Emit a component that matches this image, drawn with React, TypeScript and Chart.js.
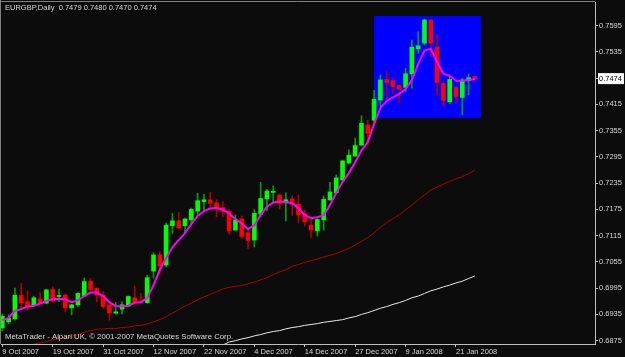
import React, { useEffect, useRef } from "react";
import { Chart, registerables } from "chart.js";

Chart.register(...registerables);

// ---- text ----
const titleText = "EURGBP,Daily  0.7479 0.7480 0.7470 0.7474";
const footerText = "MetaTrader - Alpari UK, \u00a9 2001-2007 MetaQuotes Software Corp.";

// ---- daily bars (9 Oct 2007 .. 24 Jan 2008) ----
const open = [
  0.6904, 0.6918, 0.6925, 0.6979, 0.6964, 0.6955, 0.6970, 0.6961, 0.6992, 0.6976,
  0.6979, 0.6950, 0.6957, 0.6977, 0.7011, 0.6995, 0.6979, 0.6957, 0.6938, 0.6947,
  0.6954, 0.6973, 0.6965, 0.6962, 0.7034, 0.7071, 0.7048, 0.7138, 0.7149, 0.7138,
  0.7151, 0.7171, 0.7193, 0.7197, 0.7190, 0.7179, 0.7171, 0.7128, 0.7153, 0.7122,
  0.7105, 0.7164, 0.7199, 0.7214, 0.7208, 0.7190, 0.7199, 0.7187, 0.7165, 0.7139,
  0.7126, 0.7151, 0.7197, 0.7213, 0.7242, 0.7281, 0.7297, 0.7322, 0.7368, 0.7379,
  0.7425, 0.7472, 0.7469, 0.7458, 0.7454, 0.7485, 0.7542, 0.7555, 0.7608, 0.7546,
  0.7463, 0.7421, 0.7454, 0.7431, 0.7469, 0.7479,
];
const high = [
  0.6936, 0.6934, 0.6995, 0.7006, 0.6989, 0.6976, 0.6985, 0.6992, 0.6998, 0.6993,
  0.6982, 0.6958, 0.6985, 0.7018, 0.7018, 0.6995, 0.6987, 0.6957, 0.6962, 0.6964,
  0.6977, 0.7000, 0.6983, 0.7025, 0.7076, 0.7078, 0.7144, 0.7166, 0.7168, 0.7155,
  0.7178, 0.7212, 0.7210, 0.7214, 0.7197, 0.7193, 0.7174, 0.7162, 0.7160, 0.7127,
  0.7175, 0.7237, 0.7221, 0.7229, 0.7210, 0.7213, 0.7206, 0.7208, 0.7174, 0.7155,
  0.7154, 0.7206, 0.7237, 0.7254, 0.7287, 0.7311, 0.7338, 0.7389, 0.7379, 0.7447,
  0.7482, 0.7490, 0.7476, 0.7459, 0.7498, 0.7562, 0.7581, 0.7610, 0.7609, 0.7574,
  0.7467, 0.7482, 0.7457, 0.7475, 0.7485, 0.7480,
];
const low = [
  0.6897, 0.6914, 0.6922, 0.6949, 0.6945, 0.6953, 0.6959, 0.6959, 0.6964, 0.6964,
  0.6941, 0.6934, 0.6953, 0.6976, 0.6987, 0.6964, 0.6949, 0.6922, 0.6936, 0.6936,
  0.6953, 0.6959, 0.6961, 0.6961, 0.7018, 0.7027, 0.7043, 0.7120, 0.7131, 0.7122,
  0.7139, 0.7162, 0.7174, 0.7180, 0.7158, 0.7158, 0.7119, 0.7126, 0.7109, 0.7086,
  0.7089, 0.7158, 0.7172, 0.7193, 0.7176, 0.7149, 0.7162, 0.7145, 0.7137, 0.7111,
  0.7114, 0.7128, 0.7195, 0.7213, 0.7241, 0.7279, 0.7296, 0.7320, 0.7322, 0.7372,
  0.7410, 0.7425, 0.7439, 0.7418, 0.7444, 0.7452, 0.7532, 0.7551, 0.7524, 0.7437,
  0.7411, 0.7418, 0.7418, 0.7391, 0.7437, 0.7470,
];
const close = [
  0.6931, 0.6926, 0.6979, 0.6961, 0.6953, 0.6973, 0.6961, 0.6991, 0.6966, 0.6977,
  0.6950, 0.6957, 0.6983, 0.7010, 0.6992, 0.6979, 0.6953, 0.6939, 0.6941, 0.6957,
  0.6976, 0.6961, 0.6963, 0.7019, 0.7071, 0.7046, 0.7139, 0.7149, 0.7133, 0.7153,
  0.7175, 0.7195, 0.7197, 0.7189, 0.7176, 0.7170, 0.7126, 0.7151, 0.7113, 0.7104,
  0.7166, 0.7200, 0.7217, 0.7216, 0.7189, 0.7197, 0.7187, 0.7162, 0.7147, 0.7128,
  0.7152, 0.7198, 0.7215, 0.7247, 0.7286, 0.7299, 0.7321, 0.7372, 0.7349, 0.7427,
  0.7471, 0.7465, 0.7456, 0.7450, 0.7485, 0.7546, 0.7549, 0.7608, 0.7555, 0.7465,
  0.7424, 0.7472, 0.7433, 0.7471, 0.7476, 0.7474,
];

// ---- moving averages ----
const maFast = [
  0.6922, 0.6927, 0.6943, 0.6947, 0.6953, 0.6955, 0.6960, 0.6966, 0.6970, 0.6971,
  0.6970, 0.6963, 0.6967, 0.6977, 0.6985, 0.6985, 0.6977, 0.6963, 0.6954, 0.6953,
  0.6955, 0.6962, 0.6963, 0.6973, 0.7002, 0.7037, 0.7064, 0.7089, 0.7105, 0.7121,
  0.7142, 0.7160, 0.7171, 0.7177, 0.7178, 0.7175, 0.7165, 0.7153, 0.7143, 0.7130,
  0.7139, 0.7163, 0.7181, 0.7191, 0.7193, 0.7192, 0.7189, 0.7178, 0.7162, 0.7155,
  0.7157, 0.7162, 0.7185, 0.7213, 0.7238, 0.7258, 0.7283, 0.7310, 0.7329, 0.7370,
  0.7407, 0.7423, 0.7431, 0.7439, 0.7450, 0.7471, 0.7507, 0.7538, 0.7542, 0.7512,
  0.7485, 0.7480, 0.7469, 0.7469, 0.7471, 0.7473,
];
const maMid = [
  0.6849, 0.6854, 0.6857, 0.6861, 0.6864, 0.6867, 0.6870, 0.6873, 0.6877, 0.6879,
  0.6881, 0.6885, 0.6889, 0.6894, 0.6898, 0.6901, 0.6902, 0.6903, 0.6903, 0.6905,
  0.6906, 0.6909, 0.6910, 0.6913, 0.6918, 0.6923, 0.6930, 0.6938, 0.6946, 0.6954,
  0.6961, 0.6968, 0.6975, 0.6981, 0.6987, 0.6993, 0.6997, 0.6999, 0.7001, 0.7005,
  0.7009, 0.7014, 0.7019, 0.7026, 0.7032, 0.7037, 0.7045, 0.7049, 0.7054, 0.7058,
  0.7062, 0.7066, 0.7070, 0.7074, 0.7080, 0.7086, 0.7094, 0.7102, 0.7111, 0.7121,
  0.7134, 0.7145, 0.7154, 0.7163, 0.7174, 0.7185, 0.7197, 0.7208, 0.7219, 0.7226,
  0.7233, 0.7239, 0.7245, 0.7250, 0.7257, 0.7265,
];
const maSlow: (number | null)[] = [
  null, null, null, null, null, null, null, null, null, null,
  null, null, null, null, null, null, null, null, null, null,
  null, null, null, null, null, null, null, null, null, null,
  null, null, null, null, 0.6861, 0.6865, 0.6872, 0.6875, 0.6879, 0.6882,
  0.6886, 0.6889, 0.6893, 0.6896, 0.6898, 0.6902, 0.6905, 0.6907, 0.6910, 0.6912,
  0.6914, 0.6917, 0.6919, 0.6921, 0.6923, 0.6927, 0.6930, 0.6935, 0.6939, 0.6944,
  0.6949, 0.6953, 0.6958, 0.6962, 0.6967, 0.6973, 0.6977, 0.6983, 0.6989, 0.6993,
  0.6998, 0.7002, 0.7007, 0.7011, 0.7017, 0.7023,
];

// ---- axes ----
const dateTickLabels = [
  "9 Oct 2007", "19 Oct 2007", "31 Oct 2007", "12 Nov 2007", "22 Nov 2007",
  "4 Dec 2007", "14 Dec 2007", "27 Dec 2007", "9 Jan 2008", "21 Jan 2008",
];
const barsPerDateTick = 8;
const priceTicks = [
  0.6875, 0.6935, 0.6995, 0.7055, 0.7115, 0.7175, 0.7235, 0.7295,
  0.7355, 0.7415, 0.7474, 0.7535, 0.7595,
];
const lastPrice = 0.7474;

// ---- rectangle object (bar index span, price span) ----
const rectBars = [58.95, 75.94];
const rectPrices = [0.73856, 0.76178];

const FONT = "'Liberation Sans', Arial, sans-serif";
const BG = "#0c0c0c";

function noPad(s: any) {
  s.paddingTop = 0;
  s.paddingBottom = 0;
  s.paddingLeft = 0;
  s.paddingRight = 0;
}

export default function App() {
  const ref = useRef<HTMLCanvasElement>(null);

  useEffect(() => {
    document.body.style.margin = "0";
    document.body.style.background = BG;
    const canvas = ref.current!;
    const idx = open.map((_, i) => i);
    const up = idx.map((i) => close[i] >= open[i]);

    const decor = {
      id: "decor",
      beforeDraw(chart: any) {
        const { ctx, width, height } = chart;
        ctx.save();
        ctx.fillStyle = BG;
        ctx.fillRect(0, 0, width, height);
        ctx.restore();
      },
      beforeDatasetsDraw(chart: any) {
        const { ctx, scales, chartArea } = chart;
        const x0 = scales.x.getPixelForValue(rectBars[0]);
        const x1 = scales.x.getPixelForValue(rectBars[1]);
        const y0 = scales.y.getPixelForValue(rectPrices[1]);
        const y1 = scales.y.getPixelForValue(rectPrices[0]);
        ctx.save();
        ctx.beginPath();
        ctx.rect(chartArea.left, chartArea.top, chartArea.right - chartArea.left, chartArea.bottom - chartArea.top);
        ctx.clip();
        ctx.fillStyle = "#0000ff";
        ctx.fillRect(Math.round(x0), Math.round(y0), Math.round(x1 - x0), Math.round(y1 - y0));
        ctx.restore();
      },
      afterDraw(chart: any) {
        const { ctx, chartArea } = chart;
        ctx.save();
        ctx.strokeStyle = "#808080";
        ctx.lineWidth = 1;
        ctx.beginPath();
        ctx.moveTo(0.5, 0);
        ctx.lineTo(0.5, chartArea.bottom);
        ctx.moveTo(0, 1.5);
        ctx.lineTo(chartArea.right, 1.5);
        ctx.stroke();
        ctx.fillStyle = "#d8d8d8";
        ctx.textBaseline = "middle";
        ctx.textAlign = "left";
        ctx.font = "7.5px " + FONT;
        ctx.fillText(titleText, 5, 8);
        ctx.font = "7.8px " + FONT;
        ctx.fillText(footerText, 5, 337);
        ctx.restore();
      },
    };

    const chart = new Chart(canvas, {
      type: "bar",
      data: {
        datasets: [
          {
            type: "line",
            label: "MA fast",
            data: idx.map((i) => ({ x: i, y: maFast[i] })),
            borderColor: "#ff00ff",
            borderWidth: 2,
            pointRadius: 0,
            tension: 0,
            order: 0,
          },
          {
            type: "line",
            label: "MA mid",
            data: idx.map((i) => ({ x: i, y: maMid[i] })),
            borderColor: "#b00000",
            borderWidth: 1,
            pointRadius: 0,
            tension: 0,
            order: 0,
          },
          {
            type: "line",
            label: "MA slow",
            data: idx.map((i) => ({ x: i, y: maSlow[i] })),
            borderColor: "#e8e8e8",
            borderWidth: 1,
            pointRadius: 0,
            tension: 0,
            order: 0,
          },
          {
            type: "bar",
            label: "body",
            data: idx.map((i) => ({ x: i, y: [open[i], close[i]] })),
            backgroundColor: idx.map((i) => (up[i] ? "#00ff00" : "#ff0000")),
            barThickness: 4,
            grouped: false,
            minBarLength: 1,
            order: 1,
          },
          {
            type: "bar",
            label: "wick",
            data: idx.map((i) => ({ x: i, y: [low[i], high[i]] })),
            backgroundColor: idx.map((i) => (up[i] ? "#00a000" : "#b00000")),
            barThickness: 1,
            grouped: false,
            order: 2,
          },
        ] as any,
      },
      options: {
        responsive: false,
        animation: false,
        devicePixelRatio: 1,
        layout: { padding: { left: 1, top: 2, right: 0, bottom: 0 } },
        plugins: { legend: { display: false }, tooltip: { enabled: false } },
        scales: {
          x: {
            type: "linear",
            position: "bottom",
            offset: false,
            min: -0.21,
            max: 94.06,
            afterBuildTicks: (s: any) => {
              s.ticks = dateTickLabels.map((_, k) => ({ value: k * barsPerDateTick }));
            },
            afterFit: (s: any) => {
              s.height = 13;
              noPad(s);
            },
            ticks: {
              callback: (v: any) => dateTickLabels[Math.round(Number(v) / barsPerDateTick)] ?? "",
              color: "#d8d8d8",
              font: { size: 7.5, family: FONT },
              align: "start",
              padding: 0,
              maxRotation: 0,
              autoSkip: false,
            },
            grid: { drawOnChartArea: false, tickLength: 3, color: "#c0c0c0", offset: false },
            border: { color: "#c0c0c0" },
          },
          y: {
            type: "linear",
            position: "right",
            min: 0.68674,
            max: 0.76491,
            afterBuildTicks: (s: any) => {
              s.ticks = priceTicks.map((v) => ({ value: v }));
            },
            afterFit: (s: any) => {
              s.width = 30;
              noPad(s);
            },
            ticks: {
              callback: (v: any) => Number(v).toFixed(4),
              color: (c: any) => (c.tick && c.tick.value === lastPrice ? "#000000" : "#d8d8d8"),
              showLabelBackdrop: (c: any) => !!(c.tick && c.tick.value === lastPrice),
              backdropColor: "#ffffff",
              backdropPadding: { left: 1, right: 2, top: 1, bottom: 1 },
              font: { size: 7.5, family: FONT },
              padding: 1,
              autoSkip: false,
            },
            grid: { drawOnChartArea: false, tickLength: 3, color: "#c0c0c0" },
            border: { color: "#c0c0c0" },
          },
        },
      } as any,
      plugins: [decor],
    });

    return () => chart.destroy();
  }, []);

  return (
    <div style={{ width: 625, height: 357 }}>
      <canvas ref={ref} width={625} height={357} style={{ display: "block" }} />
    </div>
  );
}
